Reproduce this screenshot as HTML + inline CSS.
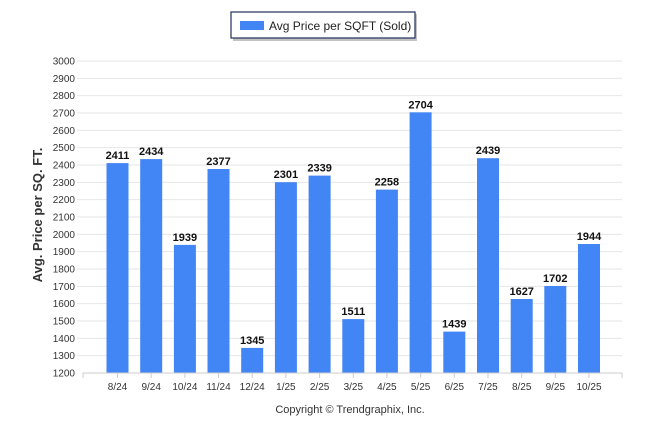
<!DOCTYPE html><html><head><style>body{margin:0;background:#fff}svg{display:block}</style></head><body>
<svg width="646" height="434" xmlns="http://www.w3.org/2000/svg" font-family="Liberation Sans, sans-serif">
<rect x="233" y="14" width="184" height="27" fill="#888" opacity="0.5"/>
<rect x="231" y="12" width="184" height="26" fill="#fff" stroke="#1f2f5a" stroke-width="1.2"/>
<rect x="240" y="21" width="24" height="9" fill="#4285f4"/>
<text x="269" y="30" font-size="12" fill="#222">Avg Price per SQFT (Sold)</text>
<g stroke="#e6e6e6">
<line x1="77" x2="622" y1="355.67" y2="355.67"/><line x1="77" x2="622" y1="338.33" y2="338.33"/><line x1="77" x2="622" y1="321" y2="321"/><line x1="77" x2="622" y1="303.67" y2="303.67"/><line x1="77" x2="622" y1="286.33" y2="286.33"/><line x1="77" x2="622" y1="269" y2="269"/><line x1="77" x2="622" y1="251.67" y2="251.67"/><line x1="77" x2="622" y1="234.33" y2="234.33"/><line x1="77" x2="622" y1="217" y2="217"/><line x1="77" x2="622" y1="199.67" y2="199.67"/><line x1="77" x2="622" y1="182.33" y2="182.33"/><line x1="77" x2="622" y1="165" y2="165"/><line x1="77" x2="622" y1="147.67" y2="147.67"/><line x1="77" x2="622" y1="130.33" y2="130.33"/><line x1="77" x2="622" y1="113" y2="113"/><line x1="77" x2="622" y1="95.67" y2="95.67"/><line x1="77" x2="622" y1="78.33" y2="78.33"/><line x1="77" x2="622" y1="61" y2="61"/>
</g>
<g font-size="10" fill="#333" text-anchor="end">
<text x="75" y="376.5">1200</text><text x="75" y="359.2">1300</text><text x="75" y="341.8">1400</text><text x="75" y="324.5">1500</text><text x="75" y="307.2">1600</text><text x="75" y="289.8">1700</text><text x="75" y="272.5">1800</text><text x="75" y="255.2">1900</text><text x="75" y="237.8">2000</text><text x="75" y="220.5">2100</text><text x="75" y="203.2">2200</text><text x="75" y="185.8">2300</text><text x="75" y="168.5">2400</text><text x="75" y="151.2">2500</text><text x="75" y="133.8">2600</text><text x="75" y="116.5">2700</text><text x="75" y="99.2">2800</text><text x="75" y="81.8">2900</text><text x="75" y="64.5">3000</text>
</g>
<g fill="#4285f4">
<rect x="106.5" y="163.1" width="22" height="209.9"/>
<rect x="140.2" y="159.1" width="22" height="213.9"/>
<rect x="173.9" y="244.9" width="22" height="128.1"/>
<rect x="207.5" y="169.0" width="22" height="204.0"/>
<rect x="241.2" y="347.9" width="22" height="25.1"/>
<rect x="274.9" y="182.2" width="22" height="190.8"/>
<rect x="308.6" y="175.6" width="22" height="197.4"/>
<rect x="342.3" y="319.1" width="22" height="53.9"/>
<rect x="375.9" y="189.6" width="22" height="183.4"/>
<rect x="409.6" y="112.3" width="22" height="260.7"/>
<rect x="443.3" y="331.6" width="22" height="41.4"/>
<rect x="477.0" y="158.2" width="22" height="214.8"/>
<rect x="510.7" y="299.0" width="22" height="74.0"/>
<rect x="544.3" y="286.0" width="22" height="87.0"/>
<rect x="578.0" y="244.0" width="22" height="129.0"/>
</g>
<g font-size="11" font-weight="bold" fill="#111" text-anchor="middle">
<text x="117.5" y="159.1">2411</text><text x="151.2" y="155.1">2434</text><text x="184.9" y="240.9">1939</text><text x="218.5" y="165.0">2377</text><text x="252.2" y="343.9">1345</text><text x="285.9" y="178.2">2301</text><text x="319.6" y="171.6">2339</text><text x="353.3" y="315.1">1511</text><text x="386.9" y="185.6">2258</text><text x="420.6" y="108.3">2704</text><text x="454.3" y="327.6">1439</text><text x="488.0" y="154.2">2439</text><text x="521.7" y="295.0">1627</text><text x="555.3" y="282.0">1702</text><text x="589.0" y="240.0">1944</text>
</g>
<line x1="83" x2="622" y1="373" y2="373" stroke="#ccc"/>
<g stroke="#ccc">
<line x1="83" x2="83" y1="373" y2="378"/><line x1="622" x2="622" y1="373" y2="378"/>
<line x1="117.5" x2="117.5" y1="373" y2="378"/><line x1="151.2" x2="151.2" y1="373" y2="378"/><line x1="184.9" x2="184.9" y1="373" y2="378"/><line x1="218.5" x2="218.5" y1="373" y2="378"/><line x1="252.2" x2="252.2" y1="373" y2="378"/><line x1="285.9" x2="285.9" y1="373" y2="378"/><line x1="319.6" x2="319.6" y1="373" y2="378"/><line x1="353.3" x2="353.3" y1="373" y2="378"/><line x1="386.9" x2="386.9" y1="373" y2="378"/><line x1="420.6" x2="420.6" y1="373" y2="378"/><line x1="454.3" x2="454.3" y1="373" y2="378"/><line x1="488.0" x2="488.0" y1="373" y2="378"/><line x1="521.7" x2="521.7" y1="373" y2="378"/><line x1="555.3" x2="555.3" y1="373" y2="378"/><line x1="589.0" x2="589.0" y1="373" y2="378"/>
</g>
<g font-size="10" fill="#333" text-anchor="middle">
<text x="117.5" y="390">8/24</text><text x="151.2" y="390">9/24</text><text x="184.9" y="390">10/24</text><text x="218.5" y="390">11/24</text><text x="252.2" y="390">12/24</text><text x="285.9" y="390">1/25</text><text x="319.6" y="390">2/25</text><text x="353.3" y="390">3/25</text><text x="386.9" y="390">4/25</text><text x="420.6" y="390">5/25</text><text x="454.3" y="390">6/25</text><text x="488.0" y="390">7/25</text><text x="521.7" y="390">8/25</text><text x="555.3" y="390">9/25</text><text x="589.0" y="390">10/25</text>
</g>
<text transform="translate(42,215) rotate(-90)" text-anchor="middle" font-size="13" font-weight="bold" fill="#333">Avg. Price per SQ. FT.</text>
<text x="350" y="413" text-anchor="middle" font-size="11" fill="#333">Copyright © Trendgraphix, Inc.</text>
</svg></body></html>
